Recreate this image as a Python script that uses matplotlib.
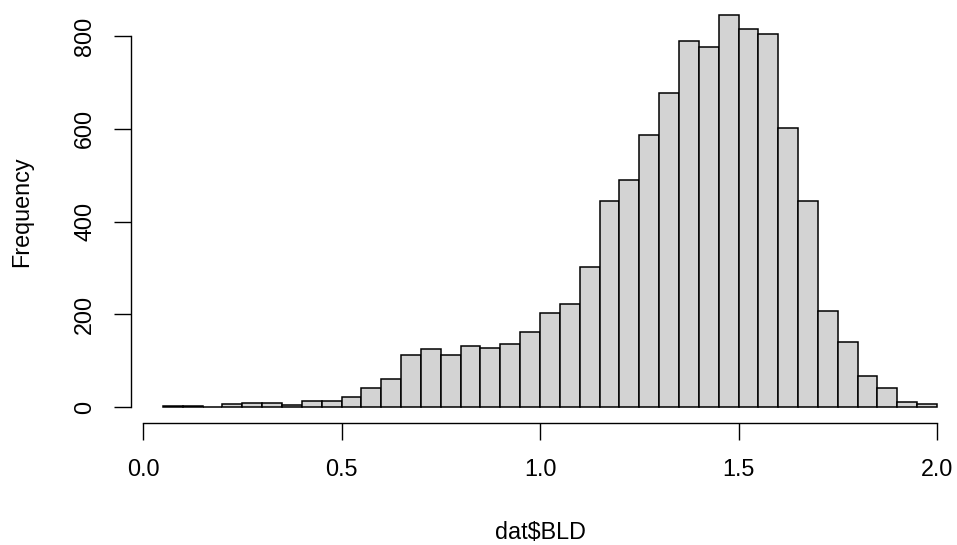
import numpy as np
import matplotlib
matplotlib.use("Agg")
import matplotlib.pyplot as plt

# histogram of dat$BLD, bins of width 0.05 from 0.05 to 2.0
bin_width = 0.05
bin_left = np.round(np.arange(0.05, 2.0, bin_width), 2)
counts = [2, 3, 1, 6, 8, 9, 4, 14, 13, 21,
          41, 60, 112, 126, 112, 132, 128, 135, 161, 202,
          222, 301, 444, 489, 587, 678, 789, 776, 845, 816,
          805, 602, 444, 208, 140, 67, 42, 10, 6]

x_ticks = [0.0, 0.5, 1.0, 1.5, 2.0]
x_ticklabels = ["0.0", "0.5", "1.0", "1.5", "2.0"]
y_ticks = [0, 200, 400, 600, 800]

plt.rcParams['font.family'] = ['Liberation Sans', 'DejaVu Sans']
plt.rcParams['font.size'] = 16.8

W, H = 957, 545
fig = plt.figure(figsize=(W / 100, H / 100), dpi=100)

# plot region in pixels (R style, cropped image)
left_px, right_px, top_px, bottom_px = 131, 950, 0.5, 423
ax = fig.add_axes([left_px / W, 1 - bottom_px / H,
                   (right_px - left_px) / W, (bottom_px - top_px) / H])

# pixel -> data mapping
x0_px, px_per_x = 143, 397.0
y0_px, px_per_y = 407, 371 / 800
ax.set_xlim((left_px - x0_px) / px_per_x, (right_px - x0_px) / px_per_x)
ax.set_ylim((y0_px - bottom_px) / px_per_y, (y0_px - top_px) / px_per_y)

ax.bar(bin_left, counts, width=bin_width, align='edge',
       color='#d3d3d3', edgecolor='black', linewidth=1.1, clip_on=False)

for s in ['top', 'right']:
    ax.spines[s].set_visible(False)
ax.spines['left'].set_bounds(0, 800)
ax.spines['bottom'].set_bounds(0, 2.0)
for s in ['left', 'bottom']:
    ax.spines[s].set_linewidth(1.0)

ax.set_xticks(x_ticks)
ax.set_xticklabels(x_ticklabels)
ax.set_yticks(y_ticks)
ax.set_yticklabels([str(v) for v in y_ticks], rotation=90, va='center')
ax.tick_params(length=12.2, width=1.0, pad=13, colors='black')

ax.set_xlabel("dat$BLD", labelpad=29)
ax.set_ylabel("Frequency", labelpad=29)

fig.savefig("out.png", dpi=100)
